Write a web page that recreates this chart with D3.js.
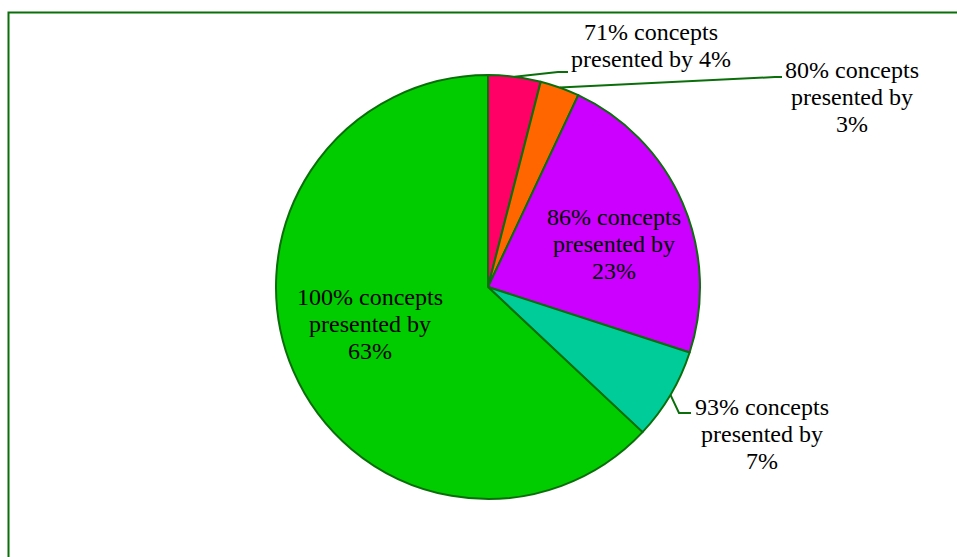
<!DOCTYPE html>
<html>
<head>
<meta charset="utf-8">
<script src="https://cdn.jsdelivr.net/npm/d3@7"></script>
<style>
  html, body { margin: 0; padding: 0; background: #fff; }
  svg { display: block; }
</style>
</head>
<body>
<svg id="chart" width="957" height="557"></svg>
<script>
// Share of students by proportion of concepts presented
const categories = ["71% concepts", "80% concepts", "86% concepts", "93% concepts", "100% concepts"];
const shares = [4, 3, 23, 7, 63];
const sliceColors = ["#FF0066", "#FF6600", "#CC00FF", "#00CC99", "#00CC00"];
// Label text, one entry per line
const labelLines = [
  ["71% concepts", "presented by 4%"],
  ["80% concepts", "presented by", "3%"],
  ["86% concepts", "presented by", "23%"],
  ["93% concepts", "presented by", "7%"],
  ["100% concepts", "presented by", "63%"]
];

const svg = d3.select("#chart");
const W = 957, H = 557;
const cx = 488, cy = 287, R = 212;
const edge = "#0A6E0A";
const serif = "'Liberation Serif', 'Times New Roman', Times, 'DejaVu Serif', serif";

// Frame (top and left edges)
svg.append("path")
  .attr("d", `M8.5,${H} V12.5 H${W}`)
  .attr("fill", "none")
  .attr("stroke", edge)
  .attr("stroke-width", 2);

const data = categories.map((c, i) => ({ name: c, value: shares[i], color: sliceColors[i], lines: labelLines[i] }));

const pie = d3.pie().value(d => d.value).sort(null);
const arcs = pie(data);
const arc = d3.arc().innerRadius(0).outerRadius(R);

const g = svg.append("g").attr("transform", `translate(${cx},${cy})`);

g.selectAll("path.slice")
  .data(arcs)
  .join("path")
  .attr("class", "slice")
  .attr("d", arc)
  .attr("fill", d => d.data.color)
  .attr("stroke", edge)
  .attr("stroke-width", 2)
  .attr("stroke-linejoin", "round");

// Label placement: offset from the slice's mid-angle point on the rim
const mid = d => (d.startAngle + d.endAngle) / 2;
const rim = (d, r) => [Math.sin(mid(d)) * r, -Math.cos(mid(d)) * r];

// Per-slice label layout (relative to pie centre): text centre x, first baseline y,
// and optional leader polyline end points.
const layout = [
  { tx: 163, ty: -247, leader: [[70, -215], [80, -215]] },
  { tx: 364, ty: -209, leader: [[287, -210], [294, -210]] },
  { tx: 126, ty: -62, leader: null },
  { tx: 274, ty: 128, leader: [[191, 126], [203, 126]] },
  { tx: -118, ty: 18, leader: null }
];
const lineH = 27;

arcs.forEach((d, i) => {
  const L = layout[i];
  if (L.leader) {
    const p0 = rim(d, R);
    const pts = [p0].concat(L.leader);
    g.append("path")
      .attr("d", d3.line()(pts))
      .attr("fill", "none")
      .attr("stroke", edge)
      .attr("stroke-width", 2);
  }
  const t = g.append("text")
    .attr("text-anchor", "middle")
    .attr("font-family", serif)
    .attr("font-size", 24)
    .attr("fill", "#000");
  d.data.lines.forEach((s, k) => {
    t.append("tspan").attr("x", L.tx).attr("y", L.ty + k * lineH).text(s);
  });
});
</script>
</body>
</html>
